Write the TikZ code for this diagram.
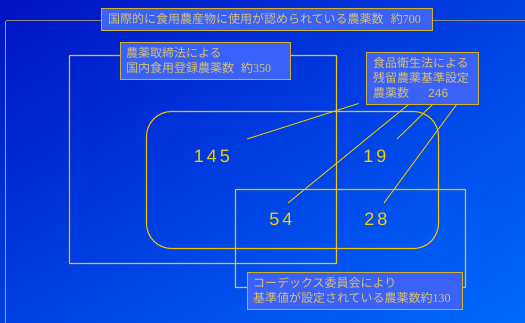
\documentclass[tikz,border=0pt]{standalone}
\usepackage{fontspec}
\usetikzlibrary{calc,shadings}
\newfontfamily\jpf{Noto Sans CJK JP}
\newfontfamily\serf{Liberation Serif}
\newfontfamily\sanf{Liberation Sans}
\definecolor{bgTL}{HTML}{0012C4}
\definecolor{bgBR}{HTML}{006AFF}
\definecolor{bgM}{HTML}{0040E4}
\definecolor{boxfill}{HTML}{3A62F8}
\definecolor{boxedge}{HTML}{D0B030}
\definecolor{labtext}{HTML}{D8C070}
\definecolor{gold}{HTML}{F0C400}
\definecolor{numgold}{HTML}{F2D000}
\definecolor{outergrey}{HTML}{8C8A7C}
\definecolor{outertan}{HTML}{B4A060}
\tikzset{
  labelbox/.style={draw=boxedge, fill=boxfill, line width=1pt, anchor=north west,
    align=left, text=labtext, font=\jpf\fontsize{12}{15}\selectfont, inner ysep=0pt},
  region/.style={draw=gold, line width=1.1pt},
  numlabel/.style={text=numgold, font=\sanf\fontsize{18}{20}\selectfont},
  leader/.style={draw=gold, line width=0.9pt}
}
\begin{document}
\begin{tikzpicture}[x=1pt,y=-1pt]
\useasboundingbox (0,0) rectangle (525,322);
\shade[upper left=bgTL, lower right=bgBR, lower left=bgM, upper right=bgM] (0,0) rectangle (525,322);
% outer region (about 700)
\draw[outertan, line width=1.3pt] (5.5,330) -- (5.5,20.5);
\draw[outergrey, line width=1.3pt] (5.5,20.5) -- (530,20.5);
% registered region (about 350)
\draw[region, rounded corners=0.4pt] (69.5,55.5) rectangle (336.5,263.5);
% residue standard region (246)
\draw[region, rounded corners=25pt] (146.5,111.5) rectangle (438.5,248.5);
% codex region (about 130)
\draw[region, rounded corners=0.4pt] (235.5,189.5) rectangle (465.5,287.5);
% labels
\node[labelbox, minimum height=22pt, inner xsep=7pt, text width=317pt] (lab1) at (100.5,7.5)
  {国際的に食用農産物に使用が認められている農薬数\hspace{0.6em}約{\serf 700}};
\node[labelbox, minimum height=37pt, inner xsep=6pt, text width=158pt] (lab2) at (119.5,41.5)
  {農薬取締法による\\国内食用登録農薬数\hspace{0.6em}約{\serf 350}};
\node[labelbox, minimum height=52pt, inner xsep=7pt, text width=98pt] (lab3) at (365.5,51.5)
  {\fontsize{12}{14.5}\selectfont 食品衛生法による\\残留農薬基準設定\\農薬数\hspace{1.6em}{\sanf 246}};
\node[labelbox, minimum height=37pt, inner xsep=6pt, text width=203pt] (lab4) at (246.5,271.5)
  {コーデックス委員会により\\基準値が設定されている農薬数約{\serf 130}};
% numbers
\node[numlabel] (n145) at (212,156) {1\,4\,5};
\node[numlabel] (n19) at (375,156) {1\,9};
\node[numlabel] (n54) at (281,219) {5\,4};
\node[numlabel] (n28) at (376,219) {2\,8};
% leader line ends
\coordinate (e145) at (247,139);
\coordinate (e19) at (397,139);
\coordinate (e54) at (288,203);
\coordinate (e28) at (384,203);
\draw[leader] (e145) -- ($(lab3.south west)+(-7,-1)$);
\draw[leader] (e19) -- ($(lab3.south west)+(67,0)$);
\draw[leader] (e54) -- ($(lab3.south west)+(43,0)$);
\draw[leader] (e28) -- ($(lab3.south west)+(91,0)$);
\end{tikzpicture}
\end{document}
